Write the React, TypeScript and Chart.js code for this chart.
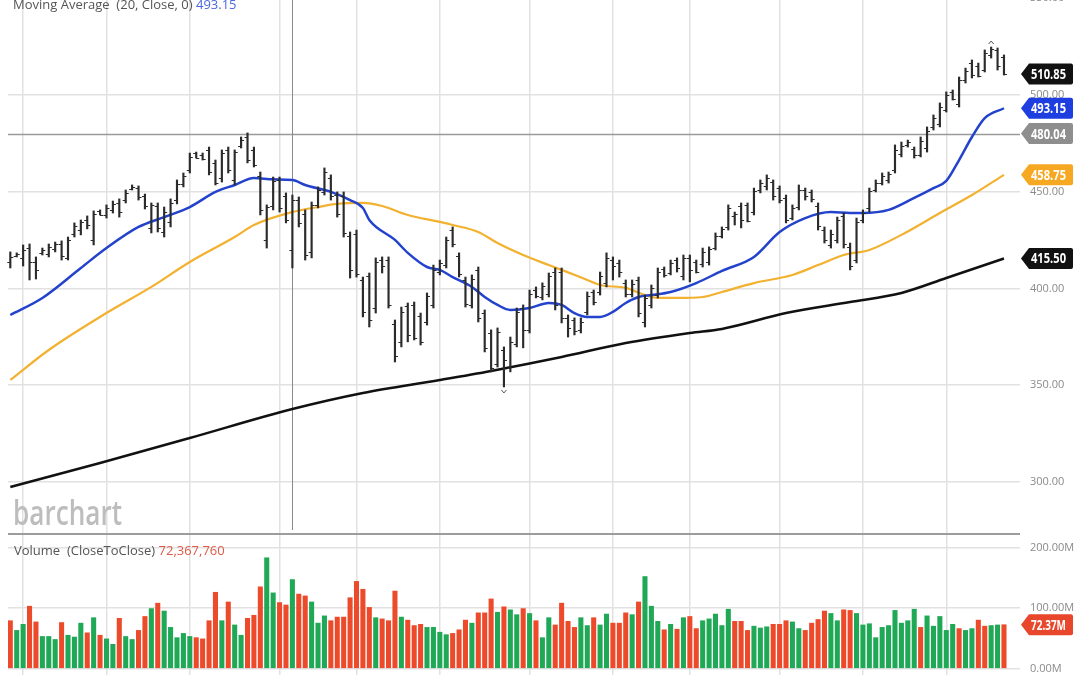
import React, { useEffect, useRef } from "react";
import { Chart, registerables } from "chart.js";

Chart.register(...registerables);

// ---- Daily OHLC (bar index 0..155) ----
const OPEN = [
  413.7, 416.8, 415.8, 420.9, 413.7, 418.4, 417.8, 420.4, 423.0, 415.8,
  428.2, 430.2, 435.4, 425.1, 440.1, 438.0, 440.6, 444.2, 445.7, 451.4,
  451.9, 447.8, 431.3, 442.6, 429.2, 434.4, 445.7, 454.0, 461.2, 470.0,
  469.0, 471.6, 464.9, 457.1, 471.6, 456.1, 473.6, 478.3, 471.6, 458.1,
  425.1, 442.6, 456.1, 447.8, 419.9, 445.7, 438.5, 418.9, 443.2, 449.9,
  457.1, 448.3, 447.8, 427.1, 428.2, 404.4, 406.5, 389.9, 414.7, 414.7,
  381.7, 372.4, 391.0, 391.5, 385.8, 382.7, 391.5, 408.5, 412.1, 430.2,
  416.8, 404.4, 391.5, 409.6, 387.3, 377.0, 361.0, 368.2, 358.9, 371.3,
  389.9, 378.6, 399.2, 395.6, 397.2, 408.5, 408.5, 384.8, 383.7, 378.6,
  387.9, 398.2, 398.2, 402.9, 414.7, 413.2, 402.9, 397.2, 404.4, 382.7,
  391.5, 396.6, 410.1, 408.0, 414.7, 406.5, 415.8, 413.7, 412.7, 413.7,
  420.9, 427.1, 431.8, 437.5, 442.6, 443.2, 439.5, 450.9, 453.0, 455.0,
  451.9, 446.8, 436.4, 442.1, 450.9, 449.9, 442.6, 430.2, 422.5, 425.1,
  437.5, 421.5, 414.7, 435.4, 441.6, 450.9, 454.5, 456.1, 461.2, 469.5,
  474.2, 472.1, 469.0, 472.6, 483.5, 485.0, 492.2, 501.6, 495.4, 507.8,
  516.5, 515.0, 512.9, 520.7, 523.3, 519.6,
];
const HIGH = [
  418.9, 418.4, 422.5, 423.0, 416.3, 420.9, 423.0, 424.0, 424.6, 426.6,
  433.9, 435.4, 437.5, 440.1, 440.6, 443.2, 445.2, 446.3, 450.9, 453.5,
  453.0, 448.8, 444.2, 444.2, 442.1, 446.3, 456.1, 459.7, 470.0, 470.5,
  470.0, 473.1, 466.4, 471.6, 473.1, 471.6, 478.3, 480.4, 473.1, 460.2,
  443.2, 457.6, 457.6, 449.4, 448.3, 447.3, 440.6, 444.7, 452.5, 462.3,
  458.7, 449.9, 449.9, 429.2, 430.2, 405.9, 408.0, 415.8, 416.3, 416.3,
  383.7, 390.4, 392.5, 393.0, 387.3, 397.7, 412.1, 414.7, 426.6, 431.8,
  418.4, 405.9, 407.0, 411.1, 388.9, 378.6, 379.6, 369.8, 374.9, 389.9,
  391.5, 399.2, 400.8, 402.9, 408.0, 410.6, 410.6, 386.3, 384.8, 384.8,
  398.2, 399.2, 408.5, 418.4, 416.3, 414.7, 404.4, 404.4, 405.9, 396.6,
  401.8, 410.6, 411.1, 414.7, 415.8, 417.3, 417.3, 414.7, 420.9, 421.5,
  428.7, 431.8, 443.2, 439.5, 444.2, 444.2, 451.9, 456.1, 458.7, 456.1,
  453.0, 448.3, 443.2, 453.5, 451.9, 450.9, 444.2, 431.8, 430.2, 436.9,
  439.0, 423.5, 436.4, 440.6, 451.9, 456.1, 459.7, 460.2, 474.2, 475.7,
  476.7, 473.1, 478.3, 483.5, 489.7, 495.9, 501.6, 502.6, 509.3, 513.9,
  518.1, 516.5, 523.3, 524.8, 524.3, 520.7,
];
const LOW = [
  410.6, 416.3, 411.6, 404.4, 404.9, 417.3, 416.3, 418.9, 414.7, 414.7,
  426.6, 427.7, 430.8, 422.5, 438.0, 436.4, 439.0, 436.9, 444.2, 450.9,
  445.7, 441.1, 428.7, 429.2, 426.6, 431.8, 443.7, 452.5, 459.7, 467.4,
  466.4, 458.7, 453.5, 455.0, 459.7, 453.5, 472.6, 464.9, 462.8, 438.0,
  420.9, 440.6, 439.5, 433.9, 410.6, 431.8, 414.7, 415.8, 441.6, 448.3,
  445.7, 436.9, 426.6, 405.4, 405.9, 385.3, 380.1, 387.3, 408.0, 389.9,
  362.0, 369.8, 372.4, 373.4, 370.8, 381.1, 389.9, 407.0, 410.6, 421.5,
  405.9, 390.4, 389.9, 382.7, 367.2, 356.9, 359.4, 349.1, 356.9, 369.8,
  369.3, 377.0, 395.1, 394.1, 395.6, 388.9, 382.2, 374.9, 376.0, 377.0,
  386.3, 391.5, 396.6, 400.8, 404.4, 405.9, 395.6, 395.6, 385.3, 380.1,
  389.9, 395.1, 405.9, 407.0, 408.5, 404.4, 403.4, 408.0, 411.1, 412.1,
  419.9, 426.1, 430.2, 432.8, 431.3, 434.4, 438.0, 449.4, 450.9, 445.7,
  444.2, 433.9, 435.4, 440.6, 445.7, 444.7, 430.2, 423.5, 420.9, 423.5,
  420.9, 409.6, 413.2, 433.9, 439.5, 449.9, 453.5, 454.5, 459.7, 468.0,
  473.1, 467.4, 468.0, 470.5, 481.9, 483.5, 491.2, 497.4, 493.8, 506.2,
  508.8, 509.3, 511.9, 519.1, 512.9, 510.3,
];
const CLOSE = [
  416.3, 417.8, 419.9, 413.7, 409.6, 419.9, 421.5, 423.0, 416.8, 425.1,
  432.3, 434.4, 432.8, 438.5, 438.0, 441.6, 443.7, 439.5, 449.4, 452.5,
  447.3, 442.6, 443.2, 431.3, 439.5, 444.2, 454.0, 458.1, 468.0, 467.4,
  466.9, 460.2, 454.5, 470.0, 461.2, 470.5, 476.7, 466.4, 463.8, 440.6,
  442.1, 455.6, 441.6, 435.4, 445.7, 433.9, 417.3, 443.2, 450.9, 460.2,
  447.8, 438.5, 428.7, 409.6, 407.5, 387.9, 383.7, 413.7, 411.6, 391.5,
  365.1, 387.9, 376.0, 374.4, 372.4, 396.1, 409.6, 413.2, 425.1, 423.0,
  407.5, 392.0, 404.9, 384.8, 369.3, 358.9, 377.5, 363.0, 372.4, 387.9,
  378.6, 397.2, 396.1, 401.3, 406.5, 391.5, 384.8, 379.6, 378.0, 382.7,
  396.1, 393.0, 406.5, 415.8, 411.6, 408.5, 397.2, 402.3, 387.3, 395.1,
  400.3, 408.5, 407.0, 413.2, 410.6, 415.8, 409.6, 408.5, 418.9, 420.4,
  427.1, 430.8, 441.6, 438.5, 435.4, 434.9, 450.4, 454.5, 457.1, 447.8,
  445.7, 435.4, 441.6, 450.9, 447.8, 446.3, 432.3, 425.1, 428.2, 435.4,
  423.0, 411.6, 434.4, 439.0, 450.4, 454.5, 458.1, 459.2, 471.6, 473.6,
  475.7, 469.0, 476.2, 481.4, 488.1, 493.8, 500.0, 497.9, 507.8, 512.4,
  510.3, 509.8, 521.7, 523.8, 515.0, 510.85,
];

// ---- Volume (millions) and close-to-close colour (g = up, r = down) ----
const VOLUME_M = [
  79, 63, 73, 103, 77, 53, 53, 48, 76, 55, 52, 75, 59, 84, 55, 49, 40, 83, 53, 48,
  63, 86, 99, 108, 95, 68, 51, 58, 53, 51, 49, 79, 126, 79, 110, 72, 55, 83, 88, 135,
  183, 125, 109, 105, 147, 123, 120, 110, 75, 87, 79, 85, 85, 117, 144, 131, 101, 84, 82, 79,
  128, 85, 80, 71, 73, 68, 68, 60, 56, 58, 64, 80, 75, 92, 92, 115, 93, 102, 97, 89,
  99, 91, 79, 51, 84, 72, 108, 78, 68, 84, 71, 84, 72, 90, 75, 75, 92, 89, 110, 152,
  103, 78, 64, 73, 65, 84, 86, 66, 79, 82, 90, 71, 98, 78, 78, 63, 70, 67, 69, 73,
  73, 79, 77, 66, 63, 75, 81, 95, 91, 79, 97, 96, 91, 72, 74, 51, 68, 71, 96, 75,
  79, 98, 68, 87, 70, 86, 63, 73, 66, 63, 66, 80, 70, 71, 72, 72.37,
];
const VOLUME_DIR =
  "rggrrgggrgggrgrggrggrrgrgggggrrrrgrggrrrggrrgrrgggrrrrrrrgrrrgrrrggggrrrgrrrgrggrgr" +
  "ggrrrrggrggrrrgrgggrgrgrrgggggrrrgggrrrggrrrrggrrggggggggggrgggggrggrrggrr";

// ---- Moving averages: [bar index, value] ----
const MA20 = [
  [0, 386.3], [5, 395.1], [11, 410.6], [15, 420.9], [20, 431.8], [24, 436.9], [28, 442.1],
  [32, 449.9], [35, 453.5], [38, 457.1], [41, 456.4], [44, 456.1], [46, 453.5], [50, 449.9],
  [53, 445.7], [55, 441.6], [56, 435.4], [60, 425.1], [62, 418.4], [65, 411.1], [67, 409.6],
  [69, 405.9], [72, 400.8], [74, 395.6], [76, 391.5], [78, 388.9], [81, 389.9], [84, 392.5],
  [86, 391.5], [88, 387.3], [90, 385.3], [92, 385.3], [94, 387.9], [96, 392.5], [98, 395.6],
  [100, 396.6], [103, 398.2], [107, 402.8], [111, 409.1], [116, 416.3], [120, 429.2],
  [124, 436.4], [128, 439.5], [131, 439.0], [133, 439.0], [137, 440.6], [141, 446.8],
  [144, 451.9], [146, 455.6], [148, 466.4], [150, 478.3], [152, 488.1], [155, 493.15],
];
const MA50 = [
  [0, 352.7], [6, 368.2], [15, 387.3], [22, 400.8], [28, 413.7], [35, 426.6], [38, 432.8],
  [44, 439.5], [48, 442.1], [51, 443.7], [55, 444.2], [58, 442.6], [62, 438.0], [67, 434.4],
  [69, 432.8], [73, 429.2], [76, 423.5], [80, 417.3], [84, 412.1], [86, 409.6], [90, 404.4],
  [92, 401.8], [96, 400.3], [99, 396.6], [101, 395.1], [104, 395.1], [108, 395.6],
  [111, 398.2], [116, 402.8], [122, 407.0], [126, 412.1], [130, 417.3], [134, 419.9],
  [139, 427.7], [145, 439.0], [150, 448.3], [155, 458.75],
];
const MA200 = [
  [0, 297.4], [14, 309.8], [28, 322.7], [44, 337.7], [55, 346.0], [67, 352.7], [75, 357.4],
  [86, 364.6], [96, 371.8], [106, 377.0], [111, 379.1], [121, 387.3], [131, 393.0],
  [139, 397.7], [146, 405.4], [155, 415.5],
];

// ---- Axis ticks / reference values ----
const PRICE_TICKS = [300, 350, 400, 450, 500, 550];
const VOLUME_TICKS = [0, 100, 200];
const X_GRID_BARS = [2, 15, 28, 42, 54, 67, 81, 94, 106, 120, 133, 146];
const REF_LEVEL = 480.04;
const CURSOR_BAR = 44;
const MA_TITLE = "Moving Average  (20, Close, 0) ";
const MA_TITLE_VALUE = "493.15";
const VOL_TITLE = "Volume  (CloseToClose) ";
const VOL_TITLE_VALUE = "72,367,760";

const TAGS = [
  { axis: "y", value: 510.85, text: "510.85", bg: "#111111" },
  { axis: "y", value: 493.15, text: "493.15", bg: "#1e3ee0" },
  { axis: "y", value: 480.04, text: "480.04", bg: "#8e8e8e" },
  { axis: "y", value: 458.75, text: "458.75", bg: "#f7a823" },
  { axis: "y", value: 415.5, text: "415.50", bg: "#111111" },
  { axis: "yv", value: 72.37, text: "72.37M", bg: "#e8472b" },
];

const GREEN = "#1fa855";
const RED = "#ec4a2b";
const FONT = '"Open Sans", "Noto Sans", sans-serif';

function drawTag(ctx: CanvasRenderingContext2D, tipX: number, yc: number, text: string, bg: string) {
  const h = 21;
  const arrow = 8;
  const right = 1073;
  ctx.beginPath();
  ctx.moveTo(tipX, yc);
  ctx.lineTo(tipX + arrow, yc - h / 2);
  ctx.lineTo(right - 2, yc - h / 2);
  ctx.quadraticCurveTo(right, yc - h / 2, right, yc - h / 2 + 2);
  ctx.lineTo(right, yc + h / 2 - 2);
  ctx.quadraticCurveTo(right, yc + h / 2, right - 2, yc + h / 2);
  ctx.lineTo(tipX + arrow, yc + h / 2);
  ctx.closePath();
  ctx.fillStyle = bg;
  ctx.fill();
  ctx.fillStyle = "#ffffff";
  ctx.font = `bold 14px ${FONT}`;
  ctx.textBaseline = "middle";
  ctx.textAlign = "left";
  const w = ctx.measureText(text).width;
  const target = Math.min(w, 35);
  ctx.save();
  ctx.translate(tipX + arrow + 2, yc + 1);
  ctx.scale(target / w, 1);
  ctx.fillText(text, 0, 0);
  ctx.restore();
}

const overlay = {
  id: "overlay",
  beforeDatasetsDraw(chart: any) {
    const { ctx, chartArea, scales } = chart;
    const x = scales.x;
    const y = scales.y;
    ctx.save();
    // logo
    ctx.fillStyle = "#bdbdbd";
    ctx.font = `600 35px ${FONT}`;
    ctx.textBaseline = "alphabetic";
    ctx.textAlign = "left";
    const lw = ctx.measureText("barchart").width;
    ctx.save();
    ctx.translate(13, 525);
    ctx.scale(109 / lw, 1);
    ctx.fillText("barchart", 0, 0);
    ctx.restore();
    // reference level
    const ry = Math.round(y.getPixelForValue(REF_LEVEL)) + 0.5;
    ctx.strokeStyle = "#9a9a9a";
    ctx.lineWidth = 1.5;
    ctx.beginPath();
    ctx.moveTo(chartArea.left, ry);
    ctx.lineTo(chartArea.right, ry);
    ctx.stroke();
    // cursor line
    const cx = Math.round(x.getPixelForValue(CURSOR_BAR)) + 0.5;
    ctx.strokeStyle = "#8a8a8a";
    ctx.lineWidth = 1;
    ctx.beginPath();
    ctx.moveTo(cx, chartArea.top);
    ctx.lineTo(cx, y.bottom - 4);
    ctx.stroke();
    ctx.restore();
  },
  afterDatasetsDraw(chart: any) {
    const { ctx, scales } = chart;
    const x = scales.x;
    const y = scales.y;
    ctx.save();
    ctx.strokeStyle = "#2b2b2b";
    ctx.lineWidth = 1.2;
    for (let i = 0; i < CLOSE.length; i++) {
      const px = x.getPixelForValue(i);
      const po = Math.round(y.getPixelForValue(OPEN[i])) + 0.5;
      const pc = Math.round(y.getPixelForValue(CLOSE[i])) + 0.5;
      ctx.beginPath();
      ctx.moveTo(px - 3, po);
      ctx.lineTo(px, po);
      ctx.moveTo(px, pc);
      ctx.lineTo(px + 3, pc);
      ctx.stroke();
    }
    // period high / low markers
    let hi = 0;
    let lo = 0;
    for (let i = 1; i < HIGH.length; i++) {
      if (HIGH[i] > HIGH[hi]) hi = i;
      if (LOW[i] < LOW[lo]) lo = i;
    }
    ctx.strokeStyle = "#555";
    ctx.lineWidth = 1;
    const hx = x.getPixelForValue(hi);
    const hy = y.getPixelForValue(HIGH[hi]);
    ctx.beginPath();
    ctx.moveTo(hx - 2.5, hy - 3);
    ctx.lineTo(hx, hy - 6);
    ctx.lineTo(hx + 2.5, hy - 3);
    ctx.stroke();
    const lx = x.getPixelForValue(lo);
    const ly = y.getPixelForValue(LOW[lo]);
    ctx.beginPath();
    ctx.moveTo(lx - 2.5, ly + 3);
    ctx.lineTo(lx, ly + 6);
    ctx.lineTo(lx + 2.5, ly + 3);
    ctx.stroke();
    ctx.restore();
  },
  afterDraw(chart: any) {
    const { ctx, chartArea, scales } = chart;
    ctx.save();
    // pane separator
    const sy = scales.yv.top;
    ctx.strokeStyle = "#9c9c9c";
    ctx.lineWidth = 2;
    ctx.beginPath();
    ctx.moveTo(chartArea.left, sy);
    ctx.lineTo(chartArea.right, sy);
    ctx.stroke();
    // titles
    ctx.textBaseline = "alphabetic";
    ctx.textAlign = "left";
    ctx.font = `13px ${FONT}`;
    ctx.fillStyle = "#555555";
    ctx.fillText(MA_TITLE, 13, 9);
    let w = ctx.measureText(MA_TITLE).width;
    ctx.fillStyle = "#4a68e0";
    ctx.fillText(MA_TITLE_VALUE, 13 + w, 9);
    ctx.fillStyle = "#555555";
    ctx.fillText(VOL_TITLE, 14, 555);
    w = ctx.measureText(VOL_TITLE).width;
    ctx.fillStyle = "#e05a48";
    ctx.fillText(VOL_TITLE_VALUE, 14 + w, 555);
    // value tags
    for (const t of TAGS) {
      const sc = scales[t.axis];
      drawTag(ctx, chartArea.right + 1, sc.getPixelForValue(t.value), t.text, t.bg);
    }
    ctx.restore();
  },
};

const fitRight = (s: any) => {
  s.width = 60;
  s.paddingTop = 0;
  s.paddingBottom = 0;
};

export default function App() {
  const ref = useRef<HTMLCanvasElement>(null);
  useEffect(() => {
    const idx = CLOSE.map((_, i) => i);
    const chart = new Chart(ref.current as HTMLCanvasElement, {
      type: "bar",
      data: {
        datasets: [
          {
            type: "bar",
            label: "Range",
            data: idx.map((i) => ({ x: i, y: [LOW[i], HIGH[i]] })) as any,
            backgroundColor: "#2b2b2b",
            barThickness: 1.5,
            grouped: false,
            xAxisID: "x",
            yAxisID: "y",
            order: 0,
          } as any,
          {
            type: "line",
            label: "MA20",
            data: MA20.map(([i, v]) => ({ x: i, y: v })),
            borderColor: "#2343cc",
            borderWidth: 2.5,
            pointRadius: 0,
            cubicInterpolationMode: "monotone",
            xAxisID: "x",
            yAxisID: "y",
            order: 1,
          } as any,
          {
            type: "line",
            label: "MA50",
            data: MA50.map(([i, v]) => ({ x: i, y: v })),
            borderColor: "#f2b12f",
            borderWidth: 2.2,
            pointRadius: 0,
            cubicInterpolationMode: "monotone",
            xAxisID: "x",
            yAxisID: "y",
            order: 2,
          } as any,
          {
            type: "line",
            label: "MA200",
            data: MA200.map(([i, v]) => ({ x: i, y: v })),
            borderColor: "#111111",
            borderWidth: 2.5,
            pointRadius: 0,
            cubicInterpolationMode: "monotone",
            xAxisID: "x",
            yAxisID: "y",
            order: 3,
          } as any,
          {
            type: "bar",
            label: "Volume",
            data: idx.map((i) => ({ x: i, y: VOLUME_M[i] })) as any,
            backgroundColor: idx.map((i) => (VOLUME_DIR[i] === "g" ? GREEN : RED)),
            barThickness: 4.4,
            grouped: false,
            xAxisID: "x",
            yAxisID: "yv",
            order: 4,
          } as any,
        ],
      },
      options: {
        responsive: false,
        animation: false,
        devicePixelRatio: 1,
        layout: { padding: { left: 8, right: 0, top: 0, bottom: 0 } },
        plugins: { legend: { display: false }, tooltip: { enabled: false } },
        scales: {
          x: {
            type: "linear",
            min: -0.36,
            max: 157.5,
            offset: false,
            afterBuildTicks: (s: any) => {
              s.ticks = X_GRID_BARS.map((v) => ({ value: v }));
            },
            afterFit: (s: any) => {
              s.height = 0;
              s.paddingLeft = 0;
              s.paddingRight = 0;
            },
            ticks: { display: false },
            grid: { color: "#e1e1e1", lineWidth: 1.5, drawTicks: false, offset: false },
            border: { display: false },
          },
          y: {
            type: "linear",
            position: "right",
            stack: "panes",
            stackWeight: 534,
            min: 273.1,
            max: 549.1,
            afterBuildTicks: (s: any) => {
              s.ticks = PRICE_TICKS.map((v) => ({ value: v }));
            },
            afterFit: fitRight,
            ticks: {
              autoSkip: false,
              padding: 10,
              color: "#8a8a8a",
              font: { family: FONT, size: 11 },
              callback: (v: any) => Number(v).toFixed(2),
            },
            grid: { color: "#e1e1e1", lineWidth: 1.5, drawTicks: false },
            border: { display: false },
          },
          yv: {
            type: "linear",
            position: "right",
            stack: "panes",
            stackWeight: 141,
            min: -10.7,
            max: 222.3,
            afterBuildTicks: (s: any) => {
              s.ticks = VOLUME_TICKS.map((v) => ({ value: v }));
            },
            afterFit: fitRight,
            ticks: {
              autoSkip: false,
              padding: 10,
              color: "#8a8a8a",
              font: { family: FONT, size: 11 },
              callback: (v: any) => Number(v).toFixed(2) + "M",
            },
            grid: { color: "#e1e1e1", lineWidth: 1.5, drawTicks: false },
            border: { display: false },
          },
        },
      } as any,
      plugins: [overlay],
    });
    return () => chart.destroy();
  }, []);
  return (
    <div style={{ position: "absolute", left: 0, top: 0, width: 1080, height: 675, background: "#ffffff" }}>
      <canvas ref={ref} width={1080} height={675} style={{ display: "block" }} />
    </div>
  );
}
